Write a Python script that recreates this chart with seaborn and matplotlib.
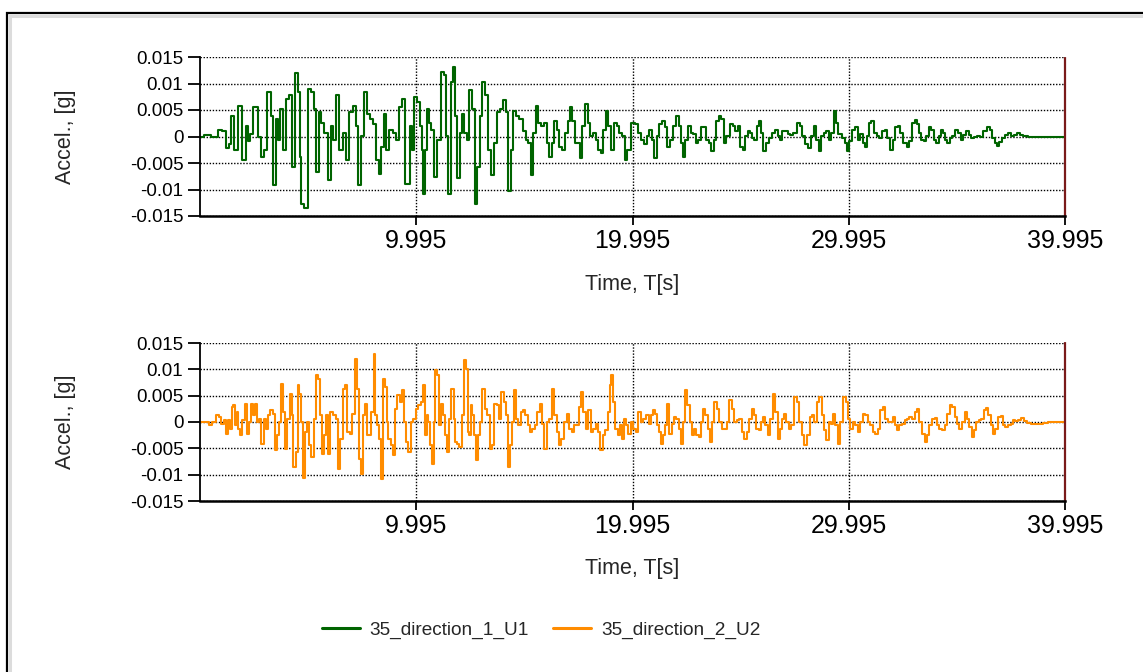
import matplotlib
matplotlib.use("Agg")
import matplotlib.pyplot as plt
from matplotlib.patches import Rectangle
from matplotlib.lines import Line2D
import seaborn as sns

# ---- data -------------------------------------------------------------
series_names = ["35_direction_1_U1", "35_direction_2_U2"]
series_colors = ["#006400", "#FF8C00"]

# direction 1 (time in s, acceleration in g)
t1 = [0.00, 0.34, 0.65, 0.96, 1.11, 1.27, 1.39, 1.50, 1.65, 1.88, 2.04, 2.16, 2.27, 2.35,
      2.58, 2.73, 2.89, 3.04, 3.19, 3.35, 3.43, 3.55, 3.66, 3.77, 3.89, 4.01, 4.17, 4.32,
      4.43, 4.58, 4.63, 4.74, 4.89, 4.97, 5.05, 5.20, 5.31, 5.43, 5.56, 5.66, 5.82, 5.97,
      6.13, 6.20, 6.36, 6.51, 6.67, 6.82, 6.98, 7.13, 7.28, 7.36, 7.52, 7.67, 7.78, 7.90,
      8.06, 8.21, 8.33, 8.44, 8.55, 8.67, 8.83, 8.98, 9.14, 9.29, 9.41, 9.52, 9.68, 9.75,
      9.83, 9.98, 10.11, 10.22, 10.29, 10.37, 10.45, 10.52, 10.63, 10.76, 10.91, 11.03,
      11.22, 11.30, 11.40, 11.53, 11.65, 11.76, 11.84, 11.96, 12.07, 12.15, 12.30, 12.38,
      12.53, 12.64, 12.76, 12.89, 12.99, 13.10, 13.26, 13.38, 13.53, 13.66, 13.77, 13.92,
      14.07, 14.18, 14.31, 14.43, 14.54, 14.69, 14.84, 15.00, 15.11, 15.23, 15.35, 15.46,
      15.57, 15.69, 15.85, 15.97, 16.08, 16.19, 16.31, 16.44, 16.54, 16.65, 16.81, 16.93,
      17.05, 17.16, 17.27, 17.39, 17.55, 17.62, 17.73, 17.85, 17.98, 18.09, 18.24, 18.35,
      18.47, 18.60, 18.70, 18.81, 18.94, 19.09, 19.21, 19.32, 19.43, 19.56, 19.71, 19.81,
      20.02, 20.17, 20.32, 20.48, 20.59, 20.71, 20.83, 20.94, 21.05, 21.17, 21.30, 21.45,
      21.56, 21.64, 21.79, 21.91, 22.07, 22.18, 22.28, 22.38, 22.48, 22.64, 22.75, 22.87,
      22.99, 23.10, 23.21, 23.33, 23.46, 23.56, 23.72, 23.80, 23.92, 24.03, 24.18, 24.26,
      24.41, 24.57, 24.69, 24.80, 24.92, 25.03, 25.15, 25.26, 25.37, 25.49, 25.57, 25.68,
      25.80, 25.88, 25.99, 26.11, 26.23, 26.36, 26.50, 26.65, 26.76, 26.85, 26.96, 27.12,
      27.22, 27.35, 27.50, 27.66, 27.78, 27.89, 28.04, 28.20, 28.30, 28.43, 28.55, 28.66,
      28.77, 28.89, 29.01, 29.12, 29.23, 29.35, 29.46, 29.58, 29.74, 29.89, 29.97, 30.08,
      30.20, 30.35, 30.48, 30.59, 30.69, 30.79, 30.90, 31.00, 31.09, 31.20, 31.36, 31.47,
      31.59, 31.71, 31.82, 31.97, 32.08, 32.21, 32.33, 32.44, 32.59, 32.75, 32.85, 32.98,
      33.10, 33.21, 33.29, 33.41, 33.52, 33.63, 33.75, 33.87, 33.98, 34.09, 34.21, 34.29,
      34.40, 34.52, 34.60, 34.71, 34.83, 34.98, 35.11, 35.22, 35.32, 35.48, 35.60, 35.73,
      35.83, 35.99, 36.14, 36.30, 36.45, 36.56, 36.68, 36.81, 36.91, 37.02, 37.15, 37.30,
      37.45, 37.58, 37.69, 37.84, 38.00, 38.15, 38.46, 38.69, 38.84, 39.995]
a1 = [0.0, 0.0002, 0.0, 0.0012, 0.0010, -0.0022, -0.0015, 0.0039, -0.0025, 0.0058, -0.0044,
      0.0020, -0.0009, 0.0005, 0.0055, 0.0, -0.0038, -0.0025, 0.0084, 0.0039, -0.0092,
      0.0033, -0.0006, 0.0052, -0.0025, 0.0071, 0.0078, -0.0057, 0.0119, 0.0084, -0.0038,
      -0.0128, -0.0134, -0.0134, 0.0090, 0.0084, 0.0052, -0.0067, 0.0046, 0.0026, 0.0007,
      -0.0083, 0.0020, -0.0006, 0.0078, -0.0025, 0.0007, -0.0044, 0.0046, 0.0058, 0.0020,
      -0.0092, 0.0001, 0.0084, 0.0042, 0.0033, 0.0023, -0.0044, -0.0070, -0.0019, 0.0042,
      -0.0025, 0.0013, 0.0007, -0.0006, 0.0055, 0.0071, -0.0089, -0.0089, 0.0020, -0.0025,
      0.0074, 0.0065, 0.0020, -0.0025, -0.0108, -0.0025, 0.0052, 0.0026, 0.0013, -0.0076,
      -0.0006, 0.0122, 0.0116, 0.0001, -0.0108, 0.0103, 0.0132, 0.0039, -0.0079, 0.0007,
      0.0042, 0.0007, -0.0006, 0.0087, 0.0052, -0.0128, -0.0057, 0.0039, 0.0103, 0.0078,
      -0.0025, -0.0073, -0.0012, 0.0046, 0.0052, 0.0068, 0.0046, -0.0102, -0.0025, 0.0049,
      0.0039, 0.0033, 0.0010, -0.0006, -0.0012, -0.0073, 0.0007, 0.0058, 0.0026, 0.0020,
      0.0026, -0.0012, -0.0038, -0.0012, 0.0029, 0.0013, -0.0019, -0.0025, 0.0007, 0.0029,
      0.0055, 0.0029, -0.0012, -0.0012, -0.0041, 0.0020, 0.0062, 0.0026, 0.0001, 0.0007,
      -0.0006, -0.0025, -0.0031, 0.0013, 0.0049, 0.0020, -0.0025, 0.0026, 0.0020, 0.0007,
      0.0001, -0.0044, -0.0025, 0.0026, 0.0023, 0.0007, -0.0006, -0.0015, 0.0001, 0.0013,
      -0.0006, -0.0041, 0.0001, 0.0023, 0.0029, 0.0017, -0.0019, -0.0006, 0.0020, 0.0039,
      0.0020, -0.0012, -0.0038, -0.0006, 0.0020, 0.0007, 0.0004, -0.0012, -0.0006, 0.0017,
      0.0017, -0.0006, -0.0012, -0.0028, -0.0006, 0.0029, 0.0039, 0.0033, -0.0012, 0.0001,
      0.0023, 0.0020, 0.0010, 0.0020, -0.0019, -0.0025, 0.0001, 0.0010, 0.0007, -0.0003,
      -0.0006, 0.0020, 0.0029, 0.0007, -0.0028, -0.0012, -0.0003, 0.0007, 0.0013, 0.0001,
      -0.0006, 0.0010, 0.0010, 0.0004, 0.0002, 0.0007, 0.0026, 0.0020, 0.0001, -0.0015,
      -0.0022, 0.0001, 0.0020, -0.0006, -0.0028, 0.0001, 0.0007, 0.0010, -0.0006, 0.0007,
      0.0049, 0.0026, 0.0004, -0.0003, -0.0012, -0.0028, -0.0009, 0.0013, 0.0017, -0.0006,
      0.0004, -0.0012, -0.0019, 0.0001, 0.0026, 0.0029, 0.0007, 0.0001, -0.0003, 0.0010,
      0.0013, -0.0003, -0.0025, -0.0006, 0.0017, 0.0020, 0.0007, -0.0012, -0.0019, -0.0009,
      0.0026, 0.0031, 0.0023, 0.0007, -0.0006, -0.0009, 0.0001, 0.0017, 0.0013, -0.0006,
      -0.0012, 0.0001, 0.0013, 0.0007, -0.0006, -0.0012, -0.0003, 0.0001, 0.0013, 0.0007,
      -0.0006, 0.0002, 0.0010, 0.0002, -0.0003, -0.0001, 0.0001, -0.0001, 0.0010, 0.0018,
      0.0013, -0.0003, -0.0012, -0.0017, -0.0011, -0.0003, 0.0002, 0.0007, 0.0001, 0.0002,
      0.0007, 0.0002, 0.0001, 0.0, -0.0001, 0.0, 0.0]

# direction 2 (time in s, acceleration in g)
t2 = [0.00, 0.34, 0.49, 0.65, 0.80, 0.93, 1.03, 1.14, 1.27, 1.34, 1.42, 1.50, 1.57, 1.65,
      1.73, 1.81, 1.91, 2.01, 2.11, 2.19, 2.31, 2.38, 2.47, 2.58, 2.65, 2.78, 2.89, 2.99,
      3.09, 3.19, 3.30, 3.40, 3.50, 3.58, 3.70, 3.77, 3.86, 3.97, 4.07, 4.20, 4.27, 4.35,
      4.48, 4.54, 4.63, 4.69, 4.78, 4.89, 4.97, 5.09, 5.20, 5.31, 5.40, 5.51, 5.59, 5.66,
      5.77, 5.86, 5.97, 6.08, 6.20, 6.33, 6.44, 6.54, 6.64, 6.74, 6.85, 6.98, 7.10, 7.21,
      7.31, 7.41, 7.48, 7.59, 7.67, 7.78, 7.87, 7.98, 8.06, 8.13, 8.21, 8.29, 8.40, 8.49,
      8.60, 8.67, 8.75, 8.86, 8.95, 9.06, 9.17, 9.29, 9.37, 9.48, 9.57, 9.68, 9.80, 9.91,
      10.02, 10.14, 10.26, 10.37, 10.45, 10.52, 10.60, 10.68, 10.76, 10.83, 10.91, 11.03,
      11.09, 11.19, 11.30, 11.37, 11.45, 11.56, 11.68, 11.76, 11.84, 11.91, 12.07, 12.18,
      12.27, 12.33, 12.42, 12.48, 12.55, 12.64, 12.73, 12.82, 12.92, 12.99, 13.10, 13.22,
      13.35, 13.46, 13.56, 13.66, 13.77, 13.87, 14.00, 14.09, 14.18, 14.27, 14.38, 14.46,
      14.55, 14.65, 14.77, 14.88, 14.99, 15.10, 15.19, 15.31, 15.42, 15.54, 15.66, 15.77,
      15.88, 15.97, 16.08, 16.19, 16.31, 16.44, 16.54, 16.65, 16.77, 16.90, 17.01, 17.11,
      17.24, 17.36, 17.47, 17.58, 17.67, 17.78, 17.89, 18.01, 18.13, 18.24, 18.35, 18.47,
      18.56, 18.66, 18.78, 18.90, 18.97, 19.06, 19.17, 19.24, 19.37, 19.48, 19.56, 19.68,
      19.75, 19.86, 19.97, 20.09, 20.22, 20.32, 20.43, 20.56, 20.68, 20.79, 20.90, 20.99,
      21.10, 21.17, 21.25, 21.33, 21.45, 21.51, 21.64, 21.76, 21.87, 21.94, 22.07, 22.18,
      22.28, 22.38, 22.48, 22.59, 22.69, 22.79, 22.90, 23.00, 23.10, 23.21, 23.33, 23.41,
      23.52, 23.61, 23.72, 23.83, 23.95, 24.07, 24.18, 24.29, 24.41, 24.54, 24.64, 24.75,
      24.88, 25.00, 25.11, 25.22, 25.34, 25.46, 25.57, 25.68, 25.77, 25.88, 25.99, 26.08,
      26.19, 26.30, 26.42, 26.54, 26.65, 26.76, 26.85, 26.96, 27.07, 27.16, 27.27, 27.42,
      27.53, 27.65, 27.78, 27.89, 27.99, 28.12, 28.24, 28.35, 28.46, 28.58, 28.70, 28.81,
      28.92, 29.01, 29.12, 29.23, 29.32, 29.43, 29.54, 29.66, 29.81, 29.92, 30.01, 30.12,
      30.23, 30.35, 30.48, 30.59, 30.69, 30.82, 30.94, 31.05, 31.16, 31.28, 31.40, 31.51,
      31.62, 31.74, 31.87, 31.97, 32.08, 32.17, 32.28, 32.39, 32.52, 32.64, 32.75, 32.85,
      32.98, 33.10, 33.21, 33.32, 33.44, 33.57, 33.67, 33.78, 33.91, 34.03, 34.14, 34.24,
      34.37, 34.49, 34.60, 34.71, 34.83, 34.95, 35.06, 35.17, 35.29, 35.42, 35.52, 35.63,
      35.73, 35.83, 35.94, 36.06, 36.19, 36.29, 36.37, 36.50, 36.61, 36.71, 36.84, 36.96,
      37.07, 37.18, 37.30, 37.42, 37.53, 37.64, 37.76, 37.89, 38.04, 38.15, 38.31, 38.54,
      38.84, 39.15, 39.23, 39.995]
a2 = [0.0, 0.0, -0.0005, 0.0, 0.0013, 0.0009, -0.0003, 0.0003, -0.0022, 0.0003, -0.0013,
      0.0028, 0.0032, -0.0006, 0.0019, -0.0013, -0.0025, 0.0003, 0.0035, -0.0022, 0.0,
      0.0035, 0.0013, 0.0035, 0.0, 0.0006, -0.0041, 0.0006, -0.0013, 0.0013, 0.0022, 0.0016,
      -0.0054, -0.0025, 0.0, 0.0073, 0.0019, -0.0051, 0.0006, 0.0054, 0.0013, -0.0085,
      -0.0057, 0.0070, 0.0054, 0.0, -0.0106, -0.0019, 0.0, -0.0044, -0.0066, 0.0006, 0.0089,
      0.0082, 0.0013, -0.0060, -0.0025, 0.0013, -0.0060, 0.0019, 0.0013, 0.0006, -0.0089,
      -0.0032, 0.0063, 0.0070, -0.0019, -0.0022, 0.0016, 0.0120, 0.0063, -0.0070, -0.0098,
      0.0013, 0.0035, -0.0025, -0.0025, 0.0019, 0.0130, 0.0013, -0.0006, -0.0032, -0.0108,
      0.0082, 0.0066, 0.0, -0.0032, -0.0044, -0.0063, 0.0025, 0.0051, 0.0038, 0.0060, 0.0,
      -0.0038, -0.0057, 0.0, 0.0006, 0.0025, 0.0032, 0.0038, 0.0070, -0.0025, 0.0013, 0.0,
      -0.0044, -0.0079, 0.0, 0.0098, 0.0089, -0.0006, 0.0035, 0.0013, -0.0025, -0.0057,
      0.0006, 0.0063, 0.0006, -0.0038, -0.0041, -0.0047, 0.0013, 0.0117, 0.0101, -0.0019,
      -0.0025, 0.0032, 0.0013, -0.0025, -0.0073, -0.0025, 0.0, 0.0063, 0.0025, 0.0013,
      -0.0051, -0.0044, 0.0035, 0.0032, 0.0006, 0.0057, 0.0038, 0.0013, -0.0085, -0.0044,
      0.0, 0.0060, 0.0006, -0.0006, 0.0019, 0.0022, 0.0013, -0.0006, -0.0019, -0.0013,
      -0.0006, 0.0019, 0.0035, -0.0003, -0.0051, 0.0, 0.0006, 0.0063, 0.0013, -0.0019,
      -0.0044, -0.0032, 0.0, 0.0016, -0.0013, -0.0019, -0.0006, -0.0006, 0.0028, 0.0057,
      0.0019, -0.0013, 0.0022, -0.0019, -0.0013, -0.0003, -0.0019, -0.0054, -0.0025,
      -0.0016, 0.0019, 0.0070, 0.0089, 0.0038, -0.0013, -0.0025, -0.0006, -0.0032, 0.0006,
      -0.0006, -0.0022, 0.0, -0.0013, -0.0019, 0.0019, 0.0, 0.0006, 0.0013, -0.0003, 0.0013,
      0.0022, 0.0016, -0.0006, -0.0019, -0.0041, -0.0025, -0.0006, 0.0035, -0.0022, -0.0003,
      0.0009, 0.0006, -0.0013, -0.0041, 0.0, 0.0060, 0.0032, 0.0, -0.0025, -0.0013, -0.0025,
      -0.0028, 0.0, 0.0025, 0.0013, -0.0013, -0.0038, 0.0, 0.0038, 0.0025, 0.0, -0.0013,
      -0.0013, 0.0, 0.0041, 0.0025, 0.0, 0.0003, 0.0006, -0.0019, -0.0032, -0.0019, 0.0006,
      0.0025, 0.0013, -0.0013, -0.0016, 0.0, 0.0009, -0.0006, -0.0025, 0.0006, 0.0054,
      0.0019, -0.0032, -0.0013, 0.0006, 0.0016, 0.0, -0.0013, -0.0006, 0.0047, 0.0038, 0.0,
      -0.0025, -0.0044, -0.0025, 0.0009, 0.0013, 0.0, 0.0038, 0.0047, 0.0013, -0.0016,
      -0.0035, 0.0, -0.0003, 0.0016, -0.0006, -0.0041, 0.0, 0.0047, 0.0038, 0.0006, -0.0013,
      0.0, -0.0006, -0.0019, 0.0, 0.0016, 0.0013, 0.0, -0.0006, -0.0019, -0.0022, -0.0013,
      0.0022, 0.0028, 0.0006, 0.0, 0.0, 0.0009, -0.0006, -0.0016, -0.0006, -0.0003, 0.0003,
      0.0006, 0.0009, 0.0006, 0.0019, 0.0025, 0.0, -0.0022, -0.0038, -0.0025, -0.0006,
      0.0006, 0.0008, -0.0006, -0.0013, -0.0016, -0.0006, 0.0016, 0.0032, 0.0028, 0.0009,
      -0.0003, -0.0013, 0.0, 0.0019, 0.0006, -0.0009, -0.0028, -0.0016, 0.0, 0.0003, 0.0006,
      0.0022, 0.0027, 0.0013, -0.0006, -0.0022, -0.0013, 0.0009, 0.0011, -0.0006, -0.0009,
      -0.0006, -0.0003, 0.0003, 0.0001, 0.0003, 0.0008, 0.0001, -0.0001, -0.0003, -0.0003,
      -0.0002, 0.0, 0.0]

x_ticks = [9.995, 19.995, 29.995, 39.995]
x_tick_labels = ["9.995", "19.995", "29.995", "39.995"]
y_ticks = [0.015, 0.01, 0.005, 0.0, -0.005, -0.01, -0.015]
y_tick_labels = ["0.015", "0.01", "0.005", "0", "-0.005", "-0.01", "-0.015"]
x_label = "Time, T[s]"
y_label = "Accel., [g]"

# ---- figure -----------------------------------------------------------
sns.set_style("white")
plt.rcParams["font.family"] = ["Liberation Sans", "DejaVu Sans"]

W, H = 1143, 672
fig = plt.figure(figsize=(W / 100, H / 100), dpi=100)
fig.patch.set_facecolor("white")

# window-style frame
fig.patches.append(Rectangle((7 / W, -0.2), 1.2, 1.2 - 13 / H, transform=fig.transFigure,
                             fill=False, ec="black", lw=1.6, zorder=0))
fig.patches.append(Rectangle((10 / W, -0.2), 1.2, 1.2 - 16 / H, transform=fig.transFigure,
                             fill=False, ec="#dcdcdc", lw=2.2, zorder=0))

left, width = 200 / W, 865 / W
ax1 = fig.add_axes([left, 1 - 216 / H, width, 159 / H])
ax2 = fig.add_axes([left, 1 - 501 / H, width, 158 / H])

for ax, t, a, name, color in [(ax1, t1, a1, series_names[0], series_colors[0]),
                               (ax2, t2, a2, series_names[1], series_colors[1])]:
    sns.lineplot(x=t, y=a, ax=ax, color=color, linewidth=1.5, label=name,
                 drawstyle="steps-mid")
    if ax.get_legend() is not None:
        ax.get_legend().remove()
    ax.set_xlim(-0.005, 39.995)
    ax.set_ylim(-0.015, 0.015)
    ax.set_xticks(x_ticks)
    ax.set_xticklabels(x_tick_labels)
    ax.set_yticks(y_ticks)
    ax.set_yticklabels(y_tick_labels)
    ax.set_axisbelow(True)
    ax.grid(True, linestyle=(0, (1, 1.2)), color="black", linewidth=1.0)
    ax.get_xgridlines()[-1].set_visible(False)
    ax.spines["top"].set_visible(False)
    ax.spines["right"].set_linestyle((0, (1, 1)))
    ax.spines["right"].set_color("#7a1a1a")
    ax.spines["right"].set_linewidth(1.6)
    ax.spines["left"].set_color("black")
    ax.spines["left"].set_linewidth(1.3)
    ax.spines["bottom"].set_color("black")
    ax.spines["bottom"].set_linewidth(1.8)
    ax.tick_params(axis="y", direction="out", length=8.5, width=1.3, pad=3.5,
                   labelsize=13.5, colors="black", left=True)
    ax.tick_params(axis="x", direction="out", length=6.5, width=1.3, pad=3,
                   labelsize=18, colors="black", bottom=True)
    ax.set_xlabel(x_label, fontsize=15.5)
    ax.set_ylabel(y_label, fontsize=15.5)
    ax.xaxis.set_label_coords(0.5, -0.43)
    ax.xaxis.label.set_va("center")
    ax.yaxis.set_label_coords(-0.155, 0.5)
    ax.yaxis.label.set_va("center")

handles = [Line2D([], [], color=c, lw=2.2) for c in series_colors]
fig.legend(handles, series_names, loc="center", bbox_to_anchor=(541 / W, 1 - 630 / H),
           ncol=2, frameon=False, fontsize=13.7, handlelength=2.0, handletextpad=0.5,
           columnspacing=1.3)

fig.savefig("out.png", dpi=100)
